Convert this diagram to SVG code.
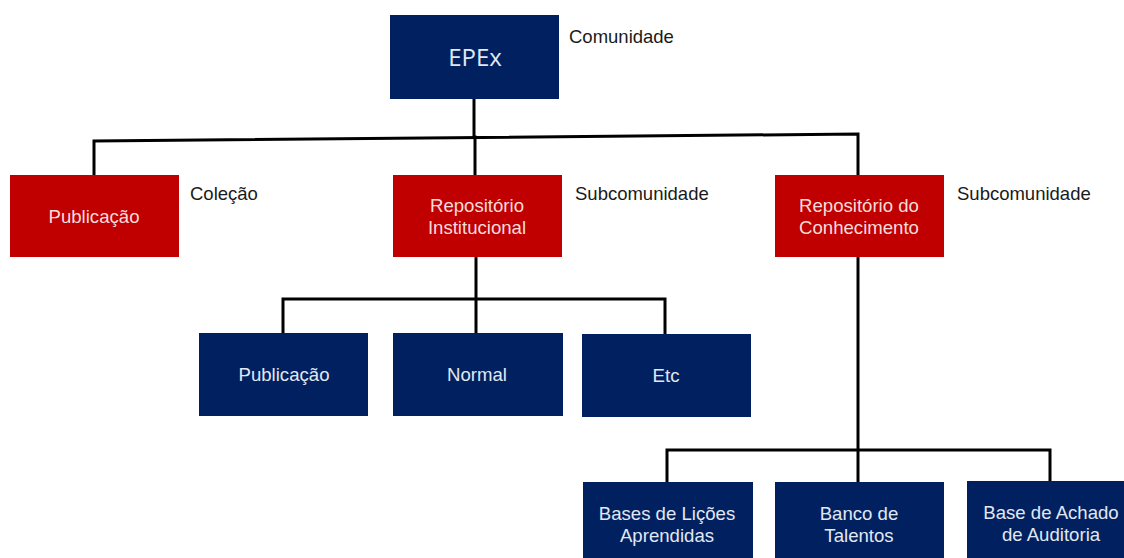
<svg xmlns="http://www.w3.org/2000/svg" width="1124" height="558" viewBox="0 0 1124 558">
  <style>
    .blue { fill: #002060; }
    .red { fill: #c00000; }
    .txt { font-family: "Liberation Sans", Arial, sans-serif; font-size: 18.6px; text-anchor: middle; }
    .tb { fill: #e2e8f3; }
    .tr { fill: #f5dcdc; }
    .lbl { font-family: "Liberation Sans", Arial, sans-serif; font-size: 18.5px; fill: #1a1a1a; }
    .conn { stroke: #000; stroke-width: 3; fill: none; stroke-linejoin: miter; stroke-linecap: square; }
  </style>

  <!-- tree connectors -->
  <g id="connectors">
    <path class="conn" d="M474 99 V137"/>
    <path class="conn" d="M94 175 V141 L858 134 V175"/>
    <path class="conn" d="M475 137 V175"/>
    <path class="conn" d="M476 257 V333"/>
    <path class="conn" d="M283 333 V299 H665 V333"/>
    <path class="conn" d="M858 257 V482"/>
    <path class="conn" d="M667 482 V450 H1050 V481"/>
  </g>

  <!-- level 0 -->
  <g id="epex">
    <rect class="blue" x="390" y="15" width="169" height="84"/>
    <text x="475" y="66" font-family="'Open Sans', Lato, sans-serif" font-size="24" text-anchor="middle" fill="#e2e8f3">EPEx</text>
  </g>
  <text id="label-comunidade" class="lbl" x="569" y="43">Comunidade</text>

  <!-- level 1 -->
  <g id="publicacao-colecao">
    <rect class="red" x="10" y="175" width="169" height="82"/>
    <text class="txt tr" x="94" y="223">Publicação</text>
  </g>
  <text id="label-colecao" class="lbl" x="190" y="200">Coleção</text>

  <g id="repositorio-institucional">
    <rect class="red" x="393" y="175" width="169" height="82"/>
    <text class="txt tr" x="477" y="212">Repositório</text>
    <text class="txt tr" x="477" y="234">Institucional</text>
  </g>
  <text id="label-sub1" class="lbl" x="575" y="200">Subcomunidade</text>

  <g id="repositorio-conhecimento">
    <rect class="red" x="775" y="175" width="169" height="82"/>
    <text class="txt tr" x="859" y="212">Repositório do</text>
    <text class="txt tr" x="859" y="234">Conhecimento</text>
  </g>
  <text id="label-sub2" class="lbl" x="957" y="200">Subcomunidade</text>

  <!-- level 2: institutional repository -->
  <g id="ri-publicacao">
    <rect class="blue" x="199" y="333" width="169" height="83"/>
    <text class="txt tb" x="284" y="381">Publicação</text>
  </g>
  <g id="ri-normal">
    <rect class="blue" x="393" y="333" width="170" height="83"/>
    <text class="txt tb" x="477" y="381">Normal</text>
  </g>
  <g id="ri-etc">
    <rect class="blue" x="582" y="334" width="169" height="83"/>
    <text class="txt tb" x="666" y="382">Etc</text>
  </g>

  <!-- level 2: knowledge repository -->
  <g id="rc-licoes">
    <rect class="blue" x="583" y="482" width="170" height="90"/>
    <text class="txt tb" x="667" y="520">Bases de Lições</text>
    <text class="txt tb" x="667" y="542">Aprendidas</text>
  </g>
  <g id="rc-talentos">
    <rect class="blue" x="775" y="482" width="169" height="90"/>
    <text class="txt tb" x="859" y="520">Banco de</text>
    <text class="txt tb" x="859" y="542">Talentos</text>
  </g>
  <g id="rc-achado">
    <rect class="blue" x="967" y="481" width="169" height="90"/>
    <text class="txt tb" x="1051" y="519">Base de Achado</text>
    <text class="txt tb" x="1051" y="541">de Auditoria</text>
  </g>
</svg>
